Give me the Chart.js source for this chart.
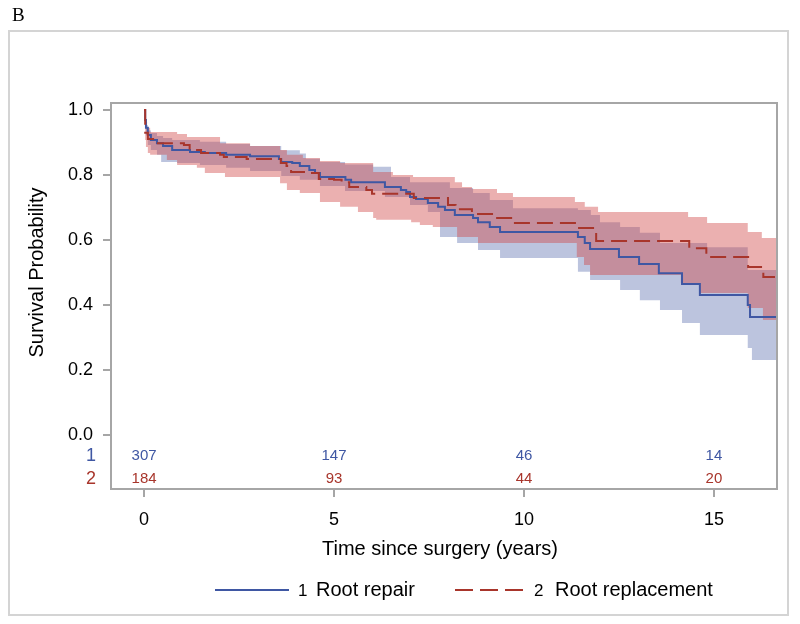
<!DOCTYPE html>
<html>
<head>
<meta charset="utf-8">
<script src="https://cdn.jsdelivr.net/npm/chart.js@4.4.1/dist/chart.umd.min.js"></script>
<style>
  html, body { margin: 0; padding: 0; background: #fff; }
  #wrap { width: 800px; height: 624px; }
</style>
</head>
<body>
<div id="wrap"><canvas id="km" width="800" height="624"></canvas></div>
<script>
// Kaplan-Meier estimates (years, survival)
const repairTime = [0, 0.03, 0.05, 0.1, 0.18, 0.34, 0.5, 0.74, 1.21, 1.6, 2.16, 2.79, 3.55, 3.61, 3.9, 4.1, 4.35, 4.5, 4.63, 5.3, 5.45, 6.34, 6.76, 6.9, 7.0, 7.16, 7.47, 7.74, 7.92, 8.18, 8.66, 8.79, 9.1, 9.37, 11.42, 11.6, 11.74, 12.5, 13.03, 13.55, 14.16, 14.63, 15.89, 15.95, 16.66];
const repairSurv = [1.0, 0.969, 0.945, 0.923, 0.908, 0.898, 0.889, 0.877, 0.871, 0.868, 0.862, 0.858, 0.849, 0.84, 0.837, 0.828, 0.815, 0.806, 0.794, 0.785, 0.778, 0.763, 0.754, 0.748, 0.732, 0.726, 0.714, 0.702, 0.692, 0.677, 0.668, 0.655, 0.64, 0.625, 0.609, 0.591, 0.572, 0.548, 0.526, 0.498, 0.465, 0.431, 0.40, 0.363, 0.363];

const replTime = [0, 0.03, 0.1, 0.3, 1.05, 1.2, 1.5, 2.0, 2.1, 2.7, 3.6, 3.75, 3.87, 4.3, 4.6, 5.0, 5.2, 5.4, 5.85, 6.0, 7.1, 8.0, 8.2, 8.63, 9.2, 9.7, 11.4, 11.9, 14.35, 14.8, 15.9, 16.3, 16.66];
const replSurv = [1.0, 0.93, 0.911, 0.898, 0.892, 0.877, 0.868, 0.862, 0.855, 0.849, 0.837, 0.828, 0.809, 0.806, 0.788, 0.785, 0.778, 0.763, 0.754, 0.742, 0.729, 0.708, 0.695, 0.68, 0.668, 0.652, 0.637, 0.597, 0.575, 0.548, 0.517, 0.486, 0.486];

// 95% confidence bands
const repairUpTime = [0, 0.03, 0.05, 0.1, 0.18, 0.34, 0.5, 0.74, 1.47, 2.16, 2.79, 3.61, 4.1, 4.26, 4.63, 5.29, 6.03, 6.5, 7.0, 8.05, 8.66, 9.1, 9.71, 11.42, 11.76, 12.0, 12.53, 13.05, 13.58, 14.82, 15.89, 16.66];
const repairUp = [1.0, 0.975, 0.954, 0.937, 0.929, 0.92, 0.914, 0.908, 0.902, 0.895, 0.889, 0.876, 0.866, 0.85, 0.84, 0.832, 0.825, 0.794, 0.778, 0.76, 0.745, 0.723, 0.698, 0.692, 0.677, 0.655, 0.64, 0.622, 0.591, 0.578, 0.508, 0.508];
const repairLoTime = [0, 0.03, 0.05, 0.1, 0.18, 0.34, 0.45, 0.87, 1.47, 2.16, 2.79, 3.61, 4.1, 4.63, 5.29, 6.34, 7.0, 7.47, 7.79, 8.24, 8.79, 9.37, 11.42, 11.74, 12.53, 13.05, 13.58, 14.16, 14.63, 15.89, 16.0, 16.66];
const repairLo = [1.0, 0.954, 0.923, 0.892, 0.877, 0.862, 0.84, 0.837, 0.831, 0.822, 0.812, 0.797, 0.785, 0.766, 0.751, 0.732, 0.708, 0.686, 0.609, 0.591, 0.569, 0.545, 0.502, 0.477, 0.446, 0.415, 0.385, 0.345, 0.308, 0.268, 0.231, 0.231];

const replUpTime = [0, 0.03, 0.08, 0.16, 0.87, 1.13, 2.0, 2.79, 3.58, 3.76, 4.18, 4.63, 5.16, 6.03, 6.55, 7.08, 8.18, 8.37, 8.63, 9.29, 9.71, 11.34, 11.6, 11.95, 14.32, 14.82, 15.89, 16.26, 16.66];
const replUp = [1.0, 0.963, 0.945, 0.932, 0.926, 0.917, 0.898, 0.889, 0.877, 0.862, 0.852, 0.843, 0.837, 0.809, 0.80, 0.794, 0.778, 0.763, 0.757, 0.745, 0.732, 0.717, 0.702, 0.686, 0.671, 0.652, 0.625, 0.606, 0.606];
const replLoTime = [0, 0.03, 0.05, 0.1, 0.16, 0.6, 0.87, 1.39, 1.6, 2.13, 3.58, 3.76, 4.1, 4.63, 5.16, 5.63, 6.03, 6.11, 7.03, 7.26, 7.6, 8.24, 8.79, 11.39, 11.58, 11.74, 14.13, 14.37, 14.63, 15.89, 16.29, 16.66];
const replLo = [1.0, 0.908, 0.886, 0.868, 0.862, 0.846, 0.831, 0.822, 0.806, 0.794, 0.775, 0.754, 0.745, 0.717, 0.702, 0.686, 0.668, 0.662, 0.655, 0.646, 0.64, 0.609, 0.591, 0.548, 0.523, 0.492, 0.468, 0.462, 0.437, 0.391, 0.354, 0.354];

// number at risk
const riskTimes = [0, 5, 10, 15];
const riskRepair = [307, 147, 46, 14];
const riskRepl = [184, 93, 44, 20];

const xTicks = [0, 5, 10, 15];
const yTicks = [0, 0.2, 0.4, 0.6, 0.8, 1.0];
const groupIds = ["1", "2"];
const groupNames = ["Root repair", "Root replacement"];
const yTitle = "Survival Probability";
const xTitle = "Time since surgery (years)";

const BLUE = "#3f57a3";
const RED = "#a8352b";
const FONT = "'Liberation Sans', Arial, sans-serif";

function pts(t, v) {
  return t.map((x, i) => ({ x: x, y: v[i] }));
}

function stepLine(label, data, color, dash, order) {
  return {
    label: label,
    data: data,
    stepped: true,
    borderColor: color,
    borderWidth: 2,
    borderDash: dash,
    pointRadius: 0,
    fill: false,
    order: order,
  };
}

function band(data, fillTo, color, order) {
  return {
    data: data,
    stepped: true,
    borderWidth: 0,
    borderColor: "rgba(0,0,0,0)",
    pointRadius: 0,
    fill: fillTo === null ? false : { target: fillTo },
    backgroundColor: color,
    order: order,
  };
}

const datasets = [
  stepLine(groupNames[0], pts(repairTime, repairSurv), BLUE, [], 1),
  stepLine(groupNames[1], pts(replTime, replSurv), RED, [16, 7], 0),
  band(pts(repairUpTime, repairUp), 3, "rgba(95,115,176,0.42)", 5),
  band(pts(repairLoTime, repairLo), null, "rgba(0,0,0,0)", 5),
  band(pts(replUpTime, replUp), 5, "rgba(207,66,66,0.42)", 3),
  band(pts(replLoTime, replLo), null, "rgba(0,0,0,0)", 3),
];

const decor = {
  id: "decor",
  beforeDraw(chart) {
    const ctx = chart.ctx;
    ctx.save();
    ctx.fillStyle = "#fff";
    ctx.fillRect(0, 0, chart.width, chart.height);
    ctx.strokeStyle = "#d4d4d4";
    ctx.lineWidth = 2;
    ctx.strokeRect(9, 31, 779, 584);
    ctx.fillStyle = "#000";
    ctx.font = "19px 'Liberation Serif', 'Times New Roman', serif";
    ctx.textBaseline = "alphabetic";
    ctx.fillText("B", 12, 21);
    ctx.restore();
  },
  afterDraw(chart) {
    const ctx = chart.ctx;
    const a = chart.chartArea;
    const xs = chart.scales.x;
    const ys = chart.scales.y;
    ctx.save();
    ctx.strokeStyle = "#a6a6a6";
    ctx.lineWidth = 2;
    ctx.strokeRect(a.left, a.top, a.right - a.left, a.bottom - a.top);

    // axis titles
    ctx.fillStyle = "#000";
    ctx.font = "20px " + FONT;
    ctx.textAlign = "center";
    ctx.textBaseline = "middle";
    ctx.fillText(xTitle, (a.left + a.right) / 2 - 4, 549);
    const yc = (ys.getPixelForValue(0) + ys.getPixelForValue(1)) / 2;
    ctx.save();
    ctx.translate(37, yc);
    ctx.rotate(-Math.PI / 2);
    ctx.fillText(yTitle, 0, 0);
    ctx.restore();

    // at-risk table
    const rows = [riskRepair, riskRepl];
    const colors = [BLUE, RED];
    const rowY = [a.bottom - 33, a.bottom - 10];
    rows.forEach((row, k) => {
      ctx.fillStyle = colors[k];
      ctx.textAlign = "center";
      ctx.font = "15px " + FONT;
      row.forEach((n, i) => {
        ctx.fillText(String(n), xs.getPixelForValue(riskTimes[i]), rowY[k]);
      });
      ctx.font = "18px " + FONT;
      ctx.fillText(groupIds[k], a.left - 20, rowY[k]);
    });

    // legend
    const ly = 590;
    ctx.lineWidth = 2;
    ctx.strokeStyle = BLUE;
    ctx.beginPath();
    ctx.moveTo(215, ly);
    ctx.lineTo(289, ly);
    ctx.stroke();
    ctx.strokeStyle = RED;
    ctx.setLineDash([18, 7]);
    ctx.beginPath();
    ctx.moveTo(455, ly);
    ctx.lineTo(523, ly);
    ctx.stroke();
    ctx.setLineDash([]);
    ctx.fillStyle = "#000";
    ctx.textAlign = "left";
    ctx.font = "17px " + FONT;
    ctx.fillText(groupIds[0], 298, ly + 1);
    ctx.fillText(groupIds[1], 534, ly + 1);
    ctx.font = "20px " + FONT;
    ctx.fillText(groupNames[0], 316, ly);
    ctx.fillText(groupNames[1], 555, ly);
    ctx.restore();
  },
};

new Chart(document.getElementById("km"), {
  type: "line",
  data: { datasets: datasets },
  options: {
    responsive: false,
    animation: false,
    layout: { padding: { top: 103, right: 23, left: 0, bottom: 0 } },
    plugins: {
      legend: { display: false },
      tooltip: { enabled: false },
      filler: { propagate: false },
    },
    scales: {
      x: {
        type: "linear",
        min: -0.87,
        max: 16.66,
        afterBuildTicks: (s) => { s.ticks = xTicks.map((v) => ({ value: v })); },
        afterFit: (s) => { s.height = 135; },
        ticks: { color: "#000", font: { family: FONT, size: 18 }, padding: 12, maxRotation: 0 },
        grid: { drawOnChartArea: false, drawTicks: true, tickLength: 8, color: "#a6a6a6", lineWidth: 2 },
        border: { display: true, color: "#a6a6a6", width: 2 },
        title: { display: false },
      },
      y: {
        type: "linear",
        min: -0.166,
        max: 1.0215,
        afterBuildTicks: (s) => { s.ticks = yTicks.map((v) => ({ value: v })); },
        afterFit: (s) => { s.width = 111; },
        ticks: {
          color: "#000",
          font: { family: FONT, size: 18 },
          padding: 10,
          callback: (v) => v.toFixed(1),
        },
        grid: { drawOnChartArea: false, drawTicks: true, tickLength: 8, color: "#a6a6a6", lineWidth: 2 },
        border: { display: true, color: "#a6a6a6", width: 2 },
        title: { display: false },
      },
    },
  },
  plugins: [decor],
});
</script>
</body>
</html>
